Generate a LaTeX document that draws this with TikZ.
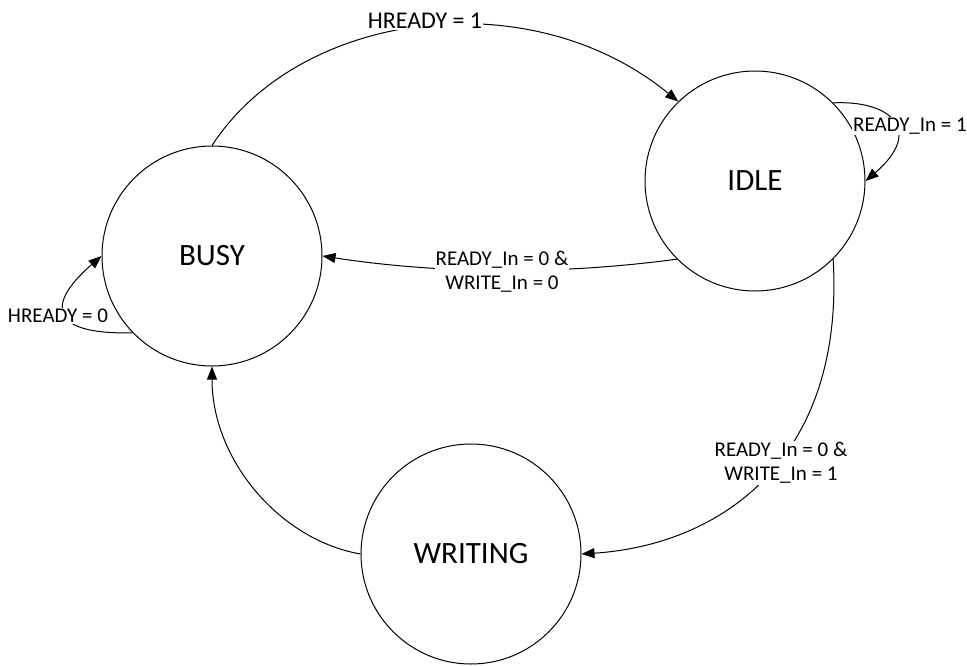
\documentclass[tikz,border=0pt]{standalone}
\usepackage{fontspec}
\setmainfont{Carlito}
\usetikzlibrary{arrows.meta}
\begin{document}
\begin{tikzpicture}[x=1pt,y=-1pt,
  state/.style={circle, draw, line width=1pt, minimum size=220pt, inner sep=0pt, font=\fontsize{31}{37}\selectfont},
  conn/.style={line width=1pt, -{Triangle[length=13pt,width=10pt]}},
  lbl/.style={fill=white, inner sep=1pt, align=center, font=\fontsize{21}{24}\selectfont}]
\useasboundingbox (0,0) rectangle (967,665);
\node[state] (busy) at (212,256) {BUSY};
\node[state] (idle) at (755,181) {IDLE};
\node[state] (writing) at (471,554) {WRITING};

\draw[conn] (busy.90) .. controls (300,10) and (530,-20) .. (idle.134);
\node[lbl, font=\fontsize{24}{28}\selectfont] (l1) at (425,21) {HREADY = 1};

\draw[conn] (idle.45) .. controls (890,100) and (925,130) .. (idle.0);
\node[lbl] (l2) at (910,126) {READY\_In = 1};

\draw[conn] (idle.225) .. controls (560,275) and (440,274) .. (busy.0);
\node[lbl] (l3) at (502,272) {READY\_In = 0 \&\\WRITE\_In = 0};

\draw[conn] (idle.-45) .. controls (845,460) and (720,545) .. (writing.0);
\node[lbl] (l4) at (781,463) {READY\_In = 0 \&\\WRITE\_In = 1};

\draw[conn] (writing.180) .. controls (280,540) and (212,460) .. (busy.270);

\draw[conn] (busy.224) .. controls (50,335) and (45,305) .. (busy.180);
\node[lbl] (l5) at (58,316) {HREADY = 0};
\end{tikzpicture}
\end{document}
